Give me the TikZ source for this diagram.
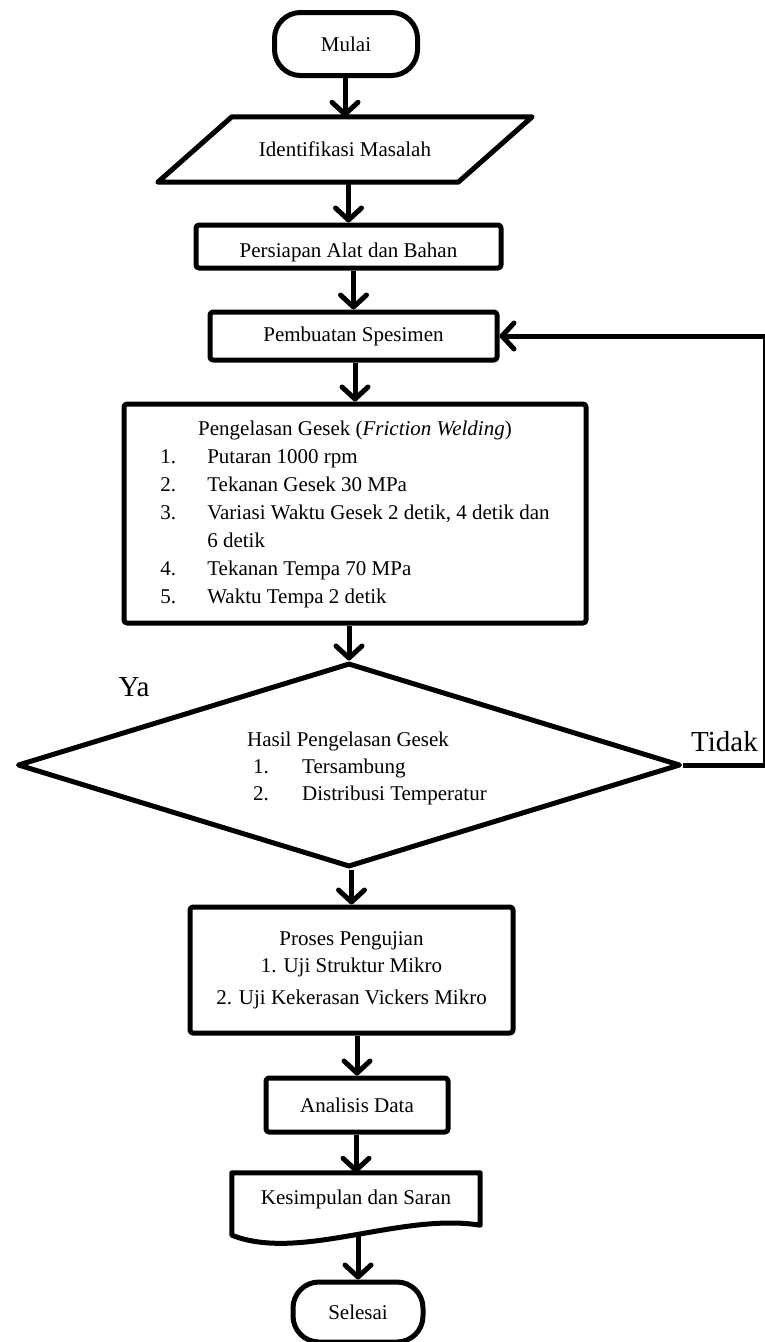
\documentclass[tikz,border=0pt]{standalone}
\usepackage{fontspec}
\setmainfont{Liberation Serif}
\usetikzlibrary{arrows.meta,shapes.geometric,calc}
\newcommand{\fsz}{\fontsize{21}{28}\selectfont}
\tikzset{
  shp/.style={draw, line width=5pt, line join=round},
  box/.style={shp, rounded corners=3pt, align=center, inner sep=0pt, font=\fsz},
  terminal/.style={box, rounded corners=26pt},
  decision/.style={shp, diamond, inner sep=0pt},
  txt/.style={inner sep=0pt, font=\fsz},
  lbl/.style={inner sep=0pt, font=\fontsize{29}{29}\selectfont},
  edge/.style={-{Straight Barb[length=12pt,width=26pt,round]}, line width=5pt},
}
\newcommand{\flow}[2]{\draw[edge] (#1.south -| #2.north) -- (#2.north);}

\begin{document}
\begin{tikzpicture}[x=1pt,y=-1pt]
  \useasboundingbox (0,0) rectangle (764,1342);
  % main column
  \node[terminal, minimum width=143pt, minimum height=63pt] (mulai) at (346,44) {Mulai};
  \node[txt, minimum width=300pt, minimum height=65pt] (masalah) at (345,149.5) {Identifikasi Masalah};
  \draw[shp] ($(masalah.north west)+(37,0)$) -- ($(masalah.north east)+(37,0)$)
    -- ($(masalah.south east)+(-37,0)$) -- ($(masalah.south west)+(-37,0)$) -- cycle;
  \node[box, minimum width=305pt, minimum height=43pt, text height=26pt, text depth=5pt] (alat) at (348.5,246.5) {Persiapan Alat dan Bahan};
  \node[box, minimum width=287pt, minimum height=48pt] (spes) at (353.5,336) {Pembuatan Spesimen};
  \node[box, minimum width=462pt, minimum height=219pt] (gesek) at (355,513.5) {%
    \begin{tabular}{@{}p{47pt}@{}l@{}}
      \multicolumn{2}{c}{Pengelasan Gesek (\textit{Friction Welding})}\\
      1. & Putaran 1000 rpm\\
      2. & Tekanan Gesek 30 MPa\\
      3. & Variasi Waktu Gesek 2 detik, 4 detik dan\\
         & 6 detik\\
      4. & Tekanan Tempa 70 MPa\\
      5. & Waktu Tempa 2 detik
    \end{tabular}};
  \node[decision, minimum width=663pt, minimum height=204pt] (hasil) at (349,765) {};
  \node[txt, anchor=west, font=\fontsize{21}{27}\selectfont] (hasilisi) at (247,768) {%
    \begin{tabular}{@{\hspace{6pt}}p{49pt}@{}l@{}}
      \multicolumn{2}{@{}l@{}}{Hasil Pengelasan Gesek}\\
      1. & Tersambung\\
      2. & Distribusi Temperatur
    \end{tabular}};
  \node[box, minimum width=323pt, minimum height=126pt, font=\fontsize{21}{27}\selectfont] (uji) at (351.5,970)
    {Proses Pengujian\\ 1. Uji Struktur Mikro\\[5pt] 2. Uji Kekerasan Vickers Mikro};
  \node[box, minimum width=182pt, minimum height=54pt] (analisis) at (357,1105) {Analisis Data};
  \node[txt, minimum width=248pt, minimum height=52pt] (kes) at (356,1199) {Kesimpulan dan Saran};
  \draw[shp] (kes.south east) -- (kes.north east) -- (kes.north west) -- ($(kes.south west)+(0,10)$)
    .. controls ($(kes.south)+(-56,37)$) and ($(kes.south)+(44,-13)$) .. (kes.south east) -- cycle;
  \coordinate (kesbot) at ($(kes.south)+(2,11)$);
  \node[terminal, minimum width=130pt, minimum height=60pt] (selesai) at (358,1312) {Selesai};
  % labels
  \node[lbl] (ya) at (134,687) {Ya};
  \node[lbl, anchor=west] (tidak) at (691,742) {Tidak};
  % connectors
  \flow{mulai}{masalah}
  \flow{masalah}{alat}
  \flow{alat}{spes}
  \flow{spes}{gesek}
  \flow{gesek}{hasil}
  \flow{hasil}{uji}
  \flow{uji}{analisis}
  \flow{analisis}{kes}
  \draw[edge] (kesbot) -- (kesbot |- selesai.north);
  \draw[edge] (hasil.east) -- ++(82,0) |- (spes.east);
\end{tikzpicture}
\end{document}
